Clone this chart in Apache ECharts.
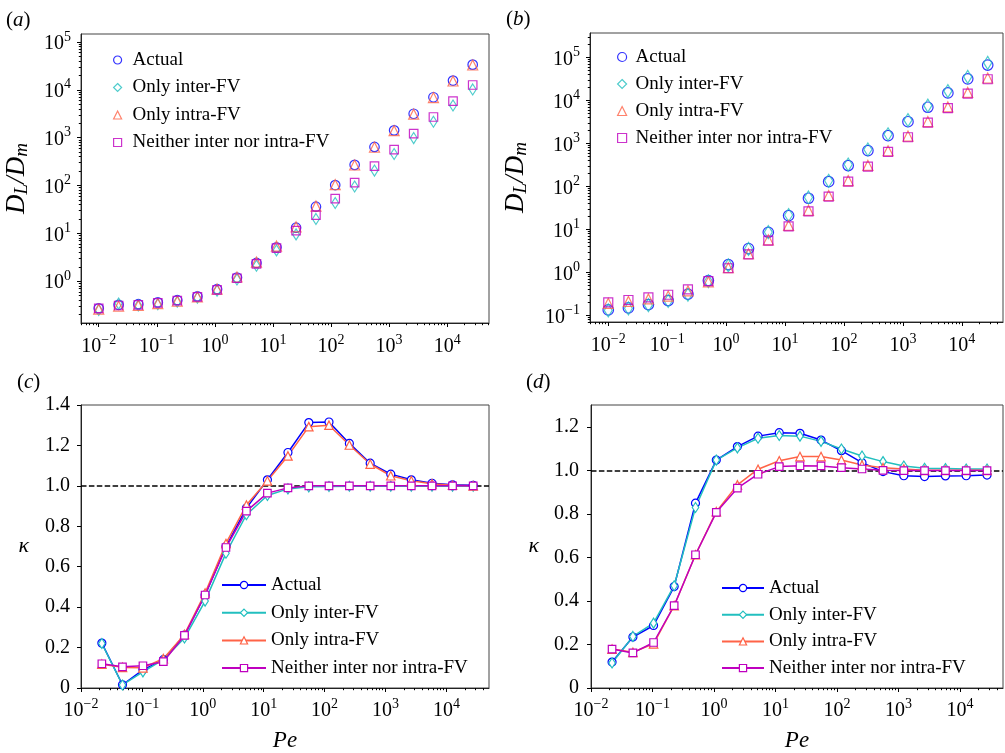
<!DOCTYPE html>
<html>
<head>
<meta charset="utf-8">
<script src="https://cdn.jsdelivr.net/npm/echarts@6/dist/echarts.min.js"></script>
<style>
  html, body { margin: 0; padding: 0; background: #fff; }
  #chart { width: 1005px; height: 753px; }
</style>
</head>
<body>
<div id="chart"></div>
<script>
  // Pe for the D_L/D_m panels (a, b) and the kappa panels (c, d)
  const pe = [0.01, 0.022, 0.048, 0.104, 0.225, 0.5, 1.09, 2.4, 5.2, 11.5, 25, 55, 118, 255, 560, 1220, 2650, 5800, 12600, 27500]
  const peK = [0.022, 0.048, 0.104, 0.225, 0.5, 1.09, 2.4, 5.2, 11.5, 25, 55, 118, 255, 560, 1220, 2650, 5800, 12600, 27500]

  // (a)
  const dlActualA = [0.27, 0.32, 0.33, 0.36, 0.40, 0.48, 0.68, 1.19, 2.4, 5.1, 13.1, 36, 102, 270, 640, 1420, 3160, 7000, 15600, 33600]
  const dlInterA = [0.25, 0.34, 0.31, 0.33, 0.37, 0.45, 0.63, 1.08, 2.1, 4.4, 9.5, 20, 43, 95, 205, 455, 980, 2150, 4700, 10200]
  const dlIntraA = [0.26, 0.30, 0.31, 0.34, 0.38, 0.47, 0.68, 1.22, 2.5, 5.4, 13.6, 37, 104, 268, 630, 1400, 3100, 6900, 15300, 33000]
  const dlNeitherA = [0.27, 0.31, 0.32, 0.35, 0.39, 0.47, 0.66, 1.15, 2.3, 4.9, 11.4, 24, 53, 115, 253, 560, 1210, 2700, 5800, 12600]

  // (b)
  const dlActualB = [0.133, 0.148, 0.177, 0.22, 0.31, 0.64, 1.5, 3.55, 8.5, 20.8, 52.7, 128, 303, 676, 1500, 3170, 6880, 14800, 31500, 66000]
  const dlInterB = [0.13, 0.145, 0.172, 0.215, 0.30, 0.62, 1.45, 3.5, 8.6, 21.5, 55, 134, 320, 720, 1620, 3450, 7500, 16300, 35000, 74000]
  const dlIntraB = [0.19, 0.21, 0.24, 0.28, 0.37, 0.60, 1.28, 2.7, 5.7, 12.3, 27.5, 61, 136, 305, 670, 1470, 3200, 7000, 15200, 33000]
  const dlNeitherB = [0.20, 0.227, 0.26, 0.30, 0.40, 0.62, 1.24, 2.6, 5.45, 11.7, 26.2, 57.6, 128, 287, 630, 1380, 3020, 6600, 14300, 30800]

  // (c)
  const kActualC = [0.222, 0.016, 0.09, 0.14, 0.262, 0.46, 0.70, 0.89, 1.03, 1.165, 1.313, 1.316, 1.21, 1.112, 1.058, 1.03, 1.013, 1.005, 1.003]
  const kInterC = [0.22, 0.015, 0.08, 0.14, 0.247, 0.43, 0.667, 0.857, 0.952, 0.985, 0.995, 0.997, 0.998, 0.998, 0.998, 0.998, 0.998, 0.998, 0.998]
  const kIntraC = [0.118, 0.102, 0.10, 0.145, 0.265, 0.47, 0.715, 0.905, 1.025, 1.148, 1.293, 1.30, 1.202, 1.108, 1.05, 1.025, 1.01, 1.003, 1.0]
  const kNeitherC = [0.12, 0.105, 0.11, 0.13, 0.26, 0.46, 0.695, 0.875, 0.964, 0.99, 1.0, 1.0, 1.0, 1.0, 1.0, 1.0, 1.0, 1.0, 1.0]

  // (d)
  const kActualD = [0.119, 0.234, 0.287, 0.466, 0.849, 1.047, 1.109, 1.157, 1.173, 1.17, 1.139, 1.09, 1.035, 0.994, 0.975, 0.971, 0.974, 0.975, 0.978]
  const kInterD = [0.115, 0.237, 0.298, 0.47, 0.829, 1.047, 1.103, 1.147, 1.16, 1.157, 1.133, 1.098, 1.066, 1.04, 1.02, 1.009, 1.008, 1.006, 1.006]
  const kIntraD = [0.179, 0.164, 0.203, 0.378, 0.612, 0.81, 0.933, 1.005, 1.044, 1.063, 1.063, 1.047, 1.024, 1.012, 1.006, 1.0, 1.0, 1.0, 1.0]
  const kNeitherD = [0.179, 0.161, 0.209, 0.378, 0.612, 0.807, 0.918, 0.982, 1.017, 1.021, 1.02, 1.012, 1.006, 1.0, 0.999, 0.999, 0.999, 0.999, 0.999]

  const names = ['Actual', 'Only inter-FV', 'Only intra-FV', 'Neither inter nor intra-FV']
  const kappaTicks = [0, 0.2, 0.4, 0.6, 0.8, 1.0, 1.2, 1.4]
  const kappaRef = 1.0

  const colors = ['#0000ff', '#22bfbf', '#ff6347', '#bf00bf']
  const symbols = ['circle', 'diamond', 'triangle', 'rect']
  const serif = '"Liberation Serif", "Times New Roman", serif'

  function decades (lo, hi) {
    const out = []
    for (let e = lo; e <= hi; e++) out.push(Math.pow(10, e))
    return out
  }
  function minors (lo, hi, min, max) {
    const out = []
    for (let e = lo; e <= hi; e++) {
      for (let k = 2; k < 10; k++) {
        const v = k * Math.pow(10, e)
        if (v > min && v < max) out.push(v)
      }
    }
    return out
  }
  function powLabel (v) {
    const e = Math.round(Math.log10(v))
    return '{b|10}{s|' + (e < 0 ? '\u2212' + (-e) : e) + '}'
  }
  const powRich = {
    b: { fontFamily: serif, fontSize: 20, lineHeight: 24, verticalAlign: 'bottom', color: '#000' },
    s: { fontFamily: serif, fontSize: 14, lineHeight: 14, verticalAlign: 'top', color: '#000' }
  }
  const axisLine = { show: true, lineStyle: { color: '#222', width: 1 } }

  const grids = [
    { left: 81, top: 34, width: 408, height: 289 },
    { left: 590, top: 33, width: 413, height: 289 },
    { left: 81, top: 405, width: 408, height: 283 },
    { left: 591, top: 405, width: 412, height: 283 }
  ].map(g => Object.assign({ show: true, borderColor: '#444', borderWidth: 1 }, g))

  const xRange = [[0.00495, 52500], [0.0049, 50000], [0.01, 50000], [0.01, 50000]]
  const xMargin = [10, 10, 9, 9]
  const xAxis = []
  xRange.forEach((r, i) => {
    const ax = {
      type: 'log', gridIndex: i, position: 'bottom', min: r[0], max: r[1],
      axisLine: axisLine,
      splitLine: { show: false },
      axisTick: { show: true, inside: false, length: 4, lineStyle: { color: '#000' }, customValues: decades(-2, 4) },
      axisLabel: { show: true, margin: xMargin[i], formatter: powLabel, rich: powRich, customValues: decades(-2, 4) }
    }
    if (i >= 2) {
      Object.assign(ax, {
        name: '{i|Pe}', nameLocation: 'middle', nameGap: 41,
        nameTextStyle: { rich: { i: { fontFamily: serif, fontStyle: 'italic', fontSize: 23, lineHeight: 23, color: '#000' } } }
      })
    }
    xAxis.push(ax)
  })
  // minor log ticks on overlay axes
  xRange.forEach((r, i) => {
    xAxis.push({
      type: 'log', gridIndex: i, position: 'bottom', min: r[0], max: r[1],
      axisLine: { show: false }, splitLine: { show: false }, axisLabel: { show: false },
      axisTick: { show: true, length: 2.2, lineStyle: { color: '#000' }, customValues: minors(-3, 4, r[0], r[1]) }
    })
  })

  const dlName = '{i|D}{u|L}{i|/D}{u|m}'
  const dlRich = {
    i: { fontFamily: serif, fontStyle: 'italic', fontSize: 27, lineHeight: 28, verticalAlign: 'top', color: '#000' },
    u: { fontFamily: serif, fontStyle: 'italic', fontSize: 19, lineHeight: 19, verticalAlign: 'bottom', color: '#000' }
  }
  const kappaStyle = { rich: { i: { fontFamily: serif, fontStyle: 'italic', fontSize: 22, lineHeight: 24, color: '#000' } } }
  const yRange = [[0.1334, 146900], [0.0698, 367000]]

  const yAxis = [
    {
      type: 'log', gridIndex: 0, min: yRange[0][0], max: yRange[0][1],
      axisLine: axisLine, splitLine: { show: false },
      axisTick: { length: 4, lineStyle: { color: '#000' }, customValues: decades(0, 5) },
      axisLabel: { margin: 10, formatter: powLabel, rich: powRich, customValues: decades(0, 5) },
      name: dlName, nameLocation: 'middle', nameGap: 50, nameRotate: 90, nameTextStyle: { rich: dlRich }
    },
    {
      type: 'log', gridIndex: 1, min: yRange[1][0], max: yRange[1][1],
      axisLine: axisLine, splitLine: { show: false },
      axisTick: { length: 4, lineStyle: { color: '#000' }, customValues: decades(-1, 5) },
      axisLabel: { margin: 10, formatter: powLabel, rich: powRich, customValues: decades(-1, 5) },
      name: dlName, nameLocation: 'middle', nameGap: 60, nameRotate: 90, nameTextStyle: { rich: dlRich }
    },
    {
      type: 'value', gridIndex: 2, min: 0, max: 1.4, interval: 0.2,
      axisLine: axisLine, splitLine: { show: false },
      axisTick: { length: 4, lineStyle: { color: '#000' }, customValues: kappaTicks },
      axisLabel: {
        margin: 11, fontFamily: serif, fontSize: 20, color: '#000', customValues: kappaTicks,
        formatter: v => (v === 0 ? '0' : v.toFixed(1))
      },
      name: '{i|\u03ba}', nameLocation: 'middle', nameGap: 52, nameRotate: 0, nameTextStyle: kappaStyle
    },
    {
      type: 'value', gridIndex: 3, min: 0, max: 1.3, interval: 0.2,
      axisLine: axisLine, splitLine: { show: false },
      axisTick: { length: 4, lineStyle: { color: '#000' }, customValues: kappaTicks.slice(0, 7) },
      axisLabel: {
        margin: 12, fontFamily: serif, fontSize: 20, color: '#000', customValues: kappaTicks.slice(0, 7),
        formatter: v => (v === 0 ? '0' : v.toFixed(1))
      },
      name: '{i|\u03ba}', nameLocation: 'middle', nameGap: 52, nameRotate: 0, nameTextStyle: kappaStyle
    }
  ]
  yRange.forEach((r, i) => {
    yAxis.push({
      type: 'log', gridIndex: i, position: 'left', min: r[0], max: r[1],
      axisLine: { show: false }, splitLine: { show: false }, axisLabel: { show: false },
      axisTick: { show: true, length: 2.2, lineStyle: { color: '#000' }, customValues: minors(-2, 5, r[0], r[1]) }
    })
  })

  const scatterSizes = [
    [9.5, [7, 11], 10, 8.5],
    [10.5, [8, 13], 10, 9]
  ]
  const lineSizes = [8, [6.5, 10], 8.5, 7.5]

  const series = []
  const dlSets = [
    [dlActualA, dlInterA, dlIntraA, dlNeitherA],
    [dlActualB, dlInterB, dlIntraB, dlNeitherB]
  ]
  const tags = ['a', 'b', 'c', 'd']
  dlSets.forEach((set, p) => {
    set.forEach((vals, k) => {
      series.push({
        name: tags[p] + ':' + names[k],
        type: 'scatter',
        xAxisIndex: p,
        yAxisIndex: p,
        symbol: symbols[k],
        symbolSize: scatterSizes[p][k],
        itemStyle: { color: 'rgba(255,255,255,0)', borderColor: colors[k], borderWidth: 1.2 },
        silent: true,
        data: pe.map((x, j) => [x, vals[j]])
      })
    })
  })
  const kSets = [
    [kActualC, kInterC, kIntraC, kNeitherC],
    [kActualD, kInterD, kIntraD, kNeitherD]
  ]
  kSets.forEach((set, q) => {
    const p = q + 2
    set.forEach((vals, k) => {
      const s = {
        name: tags[p] + ':' + names[k],
        type: 'line',
        xAxisIndex: p,
        yAxisIndex: p,
        symbol: symbols[k],
        symbolSize: lineSizes[k],
        showSymbol: true,
        lineStyle: { color: colors[k], width: 1.5 },
        itemStyle: { color: '#fff', borderColor: colors[k], borderWidth: 1.2 },
        silent: true,
        data: peK.map((x, j) => [x, vals[j]])
      }
      if (k === 0) {
        s.markLine = {
          z: 1, silent: true, symbol: 'none', label: { show: false },
          lineStyle: { color: '#000', type: [5.5, 2.4], width: 1.5 },
          data: [{ yAxis: kappaRef }]
        }
      }
      series.push(s)
    })
  })

  // marker-only legends in (a)/(b), line+marker legends in (c)/(d)
  const legendPos = [
    { left: 113, top: 50, itemWidth: 8, itemHeight: 8, itemGap: 7.5, pad: 6 },
    { left: 617, top: 47, itemWidth: 9, itemHeight: 9, itemGap: 7, pad: 4 },
    { left: 221, top: 575, itemWidth: 44, itemHeight: 9, itemGap: 7.7, pad: 0 },
    { left: 721, top: 578, itemWidth: 42, itemHeight: 9, itemGap: 6.7, pad: 0 }
  ]
  const legend = legendPos.map((l, p) => ({
    orient: 'vertical',
    left: l.left,
    top: l.top,
    itemWidth: l.itemWidth,
    itemHeight: l.itemHeight,
    itemGap: l.itemGap,
    padding: 0,
    selectedMode: false,
    itemStyle: { borderWidth: 1.2 },
    textStyle: { fontFamily: serif, fontSize: 19, lineHeight: 20, color: '#000', padding: [0, 0, 0, l.pad] },
    formatter: n => n.slice(2),
    data: names.map(n => tags[p] + ':' + n)
  }))

  const panelRich = {
    n: { fontFamily: serif, fontSize: 21, lineHeight: 22, fill: '#000' },
    i: { fontFamily: serif, fontStyle: 'italic', fontSize: 21, lineHeight: 22, fill: '#000' }
  }
  const panelPos = [[6, 10], [506, 9], [17, 372], [526, 372]]
  const graphic = panelPos.map((pos, p) => ({
    type: 'text', left: pos[0], top: pos[1],
    style: { text: '{n|(}{i|' + tags[p] + '}{n|)}', rich: panelRich }
  }))

  const option = {
    backgroundColor: '#fff',
    animation: false,
    grid: grids,
    xAxis: xAxis,
    yAxis: yAxis,
    legend: legend,
    graphic: graphic,
    series: series
  }

  const chart = echarts.init(document.getElementById('chart'))
  chart.setOption(option)
</script>
</body>
</html>
